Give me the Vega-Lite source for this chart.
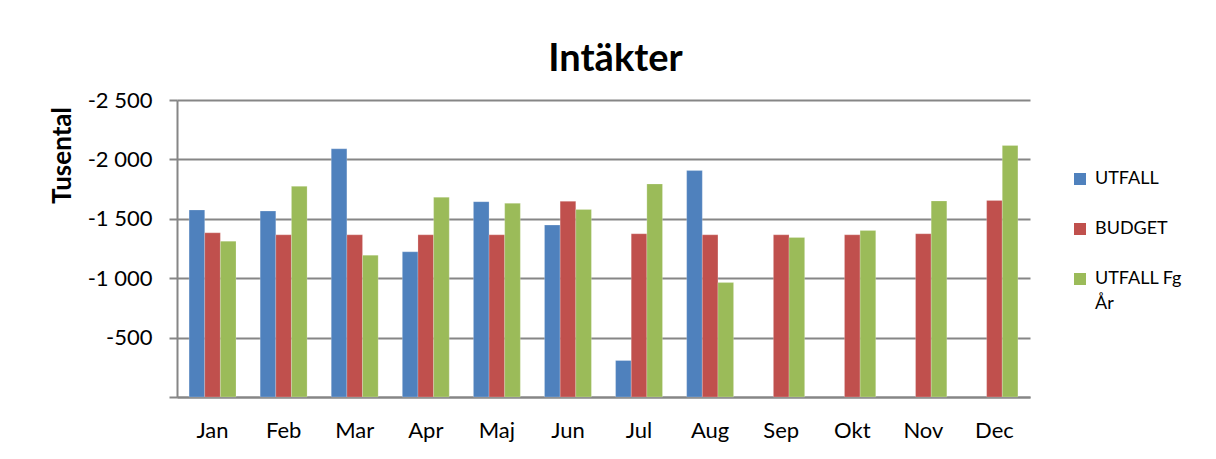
{
  "$schema": "https://vega.github.io/schema/vega-lite/v6.json",
  "width": 853,
  "height": 297,
  "autosize": {"type": "none"},
  "padding": {"left": 177, "top": 100, "right": 186, "bottom": 62},
  "background": "white",
  "title": {
    "text": "Intäkter",
    "font": "Lato",
    "fontSize": 38,
    "fontWeight": "bold",
    "color": "#000000",
    "anchor": "middle",
    "frame": "group",
    "baseline": "alphabetic",
    "offset": -20,
    "dx": 12
  },
  "data": {
    "values": [
      {"month": "Jan", "series": "UTFALL", "value": -1574},
      {"month": "Jan", "series": "BUDGET", "value": -1382},
      {"month": "Jan", "series": "UTFALL Fg År", "value": -1312},
      {"month": "Feb", "series": "UTFALL", "value": -1565},
      {"month": "Feb", "series": "BUDGET", "value": -1365},
      {"month": "Feb", "series": "UTFALL Fg År", "value": -1773},
      {"month": "Mar", "series": "UTFALL", "value": -2089},
      {"month": "Mar", "series": "BUDGET", "value": -1365},
      {"month": "Mar", "series": "UTFALL Fg År", "value": -1194},
      {"month": "Apr", "series": "UTFALL", "value": -1222},
      {"month": "Apr", "series": "BUDGET", "value": -1365},
      {"month": "Apr", "series": "UTFALL Fg År", "value": -1681},
      {"month": "Maj", "series": "UTFALL", "value": -1644},
      {"month": "Maj", "series": "BUDGET", "value": -1365},
      {"month": "Maj", "series": "UTFALL Fg År", "value": -1630},
      {"month": "Jun", "series": "UTFALL", "value": -1447},
      {"month": "Jun", "series": "BUDGET", "value": -1647},
      {"month": "Jun", "series": "UTFALL Fg År", "value": -1579},
      {"month": "Jul", "series": "UTFALL", "value": -307},
      {"month": "Jul", "series": "BUDGET", "value": -1374},
      {"month": "Jul", "series": "UTFALL Fg År", "value": -1793},
      {"month": "Aug", "series": "UTFALL", "value": -1906},
      {"month": "Aug", "series": "BUDGET", "value": -1365},
      {"month": "Aug", "series": "UTFALL Fg År", "value": -963},
      {"month": "Sep", "series": "BUDGET", "value": -1365},
      {"month": "Sep", "series": "UTFALL Fg År", "value": -1343},
      {"month": "Okt", "series": "BUDGET", "value": -1365},
      {"month": "Okt", "series": "UTFALL Fg År", "value": -1402},
      {"month": "Nov", "series": "BUDGET", "value": -1374},
      {"month": "Nov", "series": "UTFALL Fg År", "value": -1650},
      {"month": "Dec", "series": "BUDGET", "value": -1655},
      {"month": "Dec", "series": "UTFALL Fg År", "value": -2117}
    ]
  },
  "mark": {"type": "bar", "stroke": "#ffffff", "strokeOpacity": 0.35, "strokeWidth": 0.6},
  "encoding": {
    "x": {
      "field": "month",
      "type": "nominal",
      "sort": ["Jan", "Feb", "Mar", "Apr", "Maj", "Jun", "Jul", "Aug", "Sep", "Okt", "Nov", "Dec"],
      "scale": {"paddingInner": 0.34, "paddingOuter": 0.17},
      "axis": {
        "title": null,
        "labelAngle": 0,
        "ticks": false,
        "labelPadding": 23,
        "labelFont": "Lato",
        "labelFontSize": 22,
        "labelColor": "#000000",
        "domainColor": "#868686",
        "domainWidth": 2
      }
    },
    "xOffset": {
      "field": "series",
      "type": "nominal",
      "sort": ["UTFALL", "BUDGET", "UTFALL Fg År"]
    },
    "y": {
      "field": "value",
      "type": "quantitative",
      "scale": {"domain": [-2500, 0], "reverse": true, "nice": false, "zero": true},
      "axis": {
        "title": "Tusental",
        "titleFont": "Lato",
        "titleFontSize": 26,
        "titleFontWeight": "bold",
        "titleColor": "#000000",
        "titleAngle": -90,
        "titleAlign": "center",
        "titleBaseline": "middle",
        "titleX": -115,
        "titleY": 55,
        "values": [-2500, -2000, -1500, -1000, -500, 0],
        "labelExpr": "datum.value == 0 ? '' : replace(replace(format(datum.value, ','), ',', ' '), '\u2212', '-')",
        "labelFont": "Lato",
        "labelFontSize": 22,
        "labelColor": "#000000",
        "labelPadding": 17,
        "tickSize": 8,
        "tickColor": "#868686",
        "tickWidth": 2,
        "domainColor": "#868686",
        "domainWidth": 2,
        "grid": true,
        "gridColor": "#868686",
        "gridWidth": 2
      }
    },
    "color": {
      "field": "series",
      "type": "nominal",
      "sort": ["UTFALL", "BUDGET", "UTFALL Fg År"],
      "scale": {
        "domain": ["UTFALL", "BUDGET", "UTFALL Fg År"],
        "range": ["#4F81BD", "#C0504D", "#9BBB59"]
      },
      "legend": {
        "title": null,
        "orient": "none",
        "legendX": 894,
        "legendY": 70,
        "padding": 0,
        "symbolType": "square",
        "symbolSize": 144,
        "symbolStrokeWidth": 0,
        "labelFont": "Lato",
        "labelFontSize": 18,
        "labelColor": "#000000",
        "labelOffset": 6,
        "labelBaseline": "middle",
        "rowPadding": 32,
        "labelExpr": "datum.label == 'UTFALL Fg År' ? ['UTFALL Fg', 'År'] : datum.label"
      }
    }
  },
  "config": {
    "view": {"stroke": null},
    "style": {"guide-label": {"lineHeight": 25}}
  }
}
